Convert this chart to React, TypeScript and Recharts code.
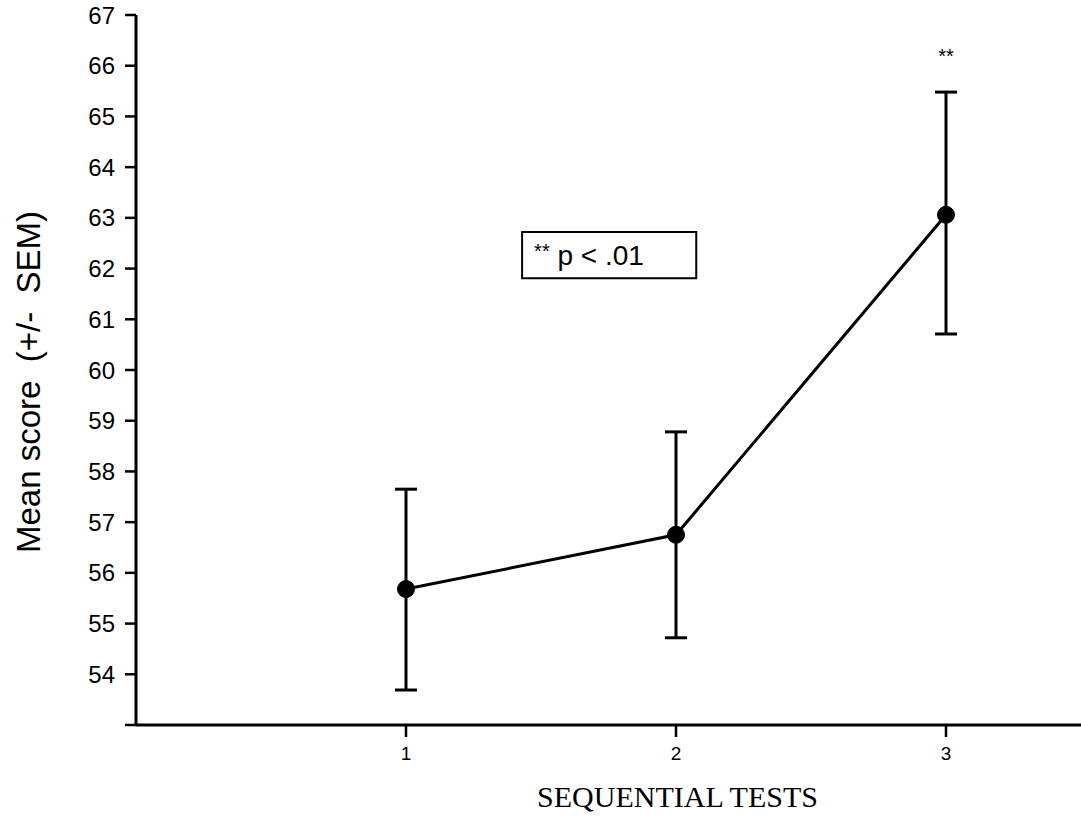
import { LineChart, Line, XAxis, YAxis, ErrorBar, ReferenceArea, ReferenceDot, Label } from 'recharts';

const tests = [1, 2, 3];
const means = [55.68, 56.75, 63.06];
const lower = [53.69, 54.72, 60.71];
const upper = [57.65, 58.78, 65.48];
const yTicks = [53, 54, 55, 56, 57, 58, 59, 60, 61, 62, 63, 64, 65, 66, 67];

const data = tests.map((t, i) => ({
  test: t,
  mean: means[i],
  err: [means[i] - lower[i], upper[i] - means[i]],
}));

const PBox = (props: any) => {
  const { viewBox } = props;
  if (!viewBox) return null;
  const cy = viewBox.y + viewBox.height / 2;
  return (
    <text x={viewBox.x + 12} y={cy + 10} fill="#000">
      <tspan fontSize={20} dy={-7}>**</tspan>
      <tspan fontSize={28} dy={7}> p &lt; .01</tspan>
    </text>
  );
};

const XTick = (props: any) => {
  const { x, y, payload } = props;
  return (
    <text x={x} y={y + 10} dy="0.71em" textAnchor="middle" fontSize={19} fill="#000">
      {payload.value}
    </text>
  );
};

const YTick = (props: any) => {
  const { x, y, payload } = props;
  if (payload.value === 53) return null;
  return (
    <text x={x - 2} y={y} dy="0.36em" textAnchor="end" fontSize={24} fill="#000">
      {payload.value}
    </text>
  );
};

const Stars = (props: any) => {
  const { viewBox } = props;
  if (!viewBox) return null;
  return (
    <text x={viewBox.x} y={viewBox.y} dy="0.6em" textAnchor="middle" fontSize={20} fill="#000">
      **
    </text>
  );
};

export default function App() {
  return (
    <div style={{ position: 'absolute', left: 0, top: 0, background: '#fff', fontFamily: 'Liberation Sans, Arial, sans-serif' }}>
      <LineChart width={1081} height={839} data={data} margin={{ top: 15, right: 0, bottom: 0, left: 0 }}>
        <XAxis
          type="number"
          dataKey="test"
          domain={[0, 3.5]}
          ticks={tests}
          height={114}
          tickSize={12}
          tickMargin={0}
          axisLine={{ stroke: '#000', strokeWidth: 3 }}
          tickLine={{ stroke: '#000', strokeWidth: 2.5 }}
          tick={<XTick />}
        >
          <Label
            content={(p: any) => {
              const vb = p.viewBox;
              if (!vb) return null;
              return (
                <text
                  x={vb.x + vb.width / 2 + 69}
                  y={807}
                  textAnchor="middle"
                  fontSize={30}
                  fill="#000"
                  fontFamily="Liberation Serif, Times New Roman, serif"
                >
                  SEQUENTIAL TESTS
                </text>
              );
            }}
          />
        </XAxis>
        <YAxis
          type="number"
          domain={[53, 67]}
          ticks={yTicks}
          width={136}
          tickSize={11}
          tickMargin={8}
          interval={0}
          axisLine={{ stroke: '#000', strokeWidth: 3 }}
          tickLine={{ stroke: '#000', strokeWidth: 2.5 }}
          tick={<YTick />}
        >
          <Label
            content={() => (
              <text
                x={0}
                y={0}
                transform="translate(40, 382) rotate(-90)"
                textAnchor="middle"
                fontSize={33}
                fill="#000"
                style={{ whiteSpace: 'pre' }}
              >
                {'Mean score  (+/-  SEM)'}
              </text>
            )}
          />
        </YAxis>
        <ReferenceArea
          x1={1.43}
          x2={2.075}
          y1={61.81}
          y2={62.72}
          fill="#fff"
          fillOpacity={1}
          stroke="#000"
          strokeWidth={2}
          label={<PBox />}
        />
        <ReferenceDot x={3} y={66.3} r={0} stroke="none" label={<Stars />} />
        <Line
          type="linear"
          dataKey="mean"
          stroke="#000"
          strokeWidth={3}
          dot={{ r: 8.5, fill: '#000', stroke: '#000', strokeWidth: 1 }}
          activeDot={false}
          isAnimationActive={false}
        >
          <ErrorBar dataKey="err" direction="y" width={11} stroke="#000" strokeWidth={3} isAnimationActive={false} />
        </Line>
      </LineChart>
    </div>
  );
}
